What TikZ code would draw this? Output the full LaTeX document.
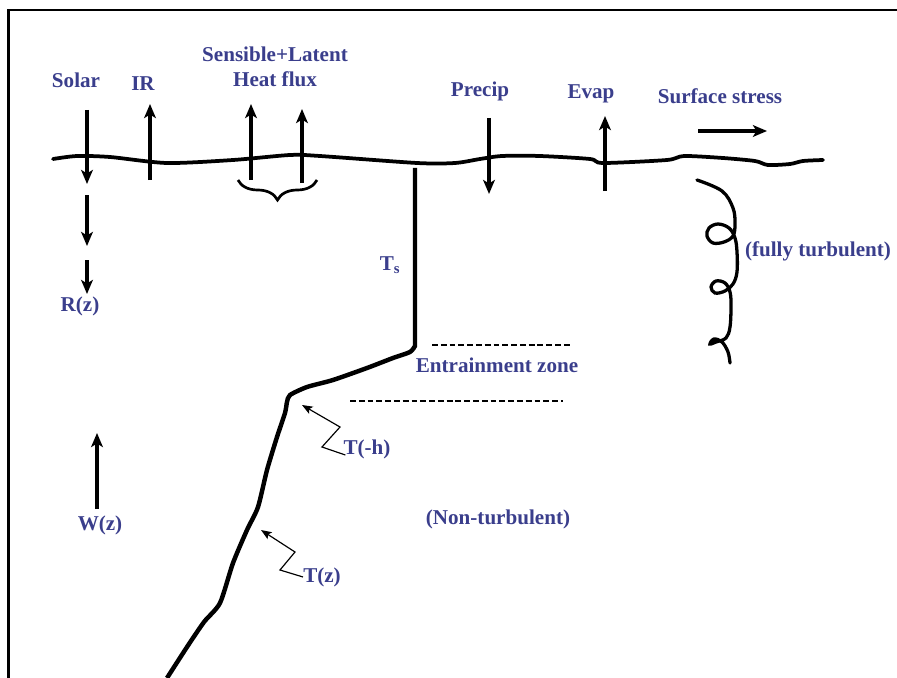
\documentclass[tikz,border=0pt]{standalone}
\usepackage{fontspec}
\setmainfont{Liberation Serif}
\usetikzlibrary{arrows.meta,decorations.pathreplacing}
\definecolor{labelblue}{RGB}{58,62,140}

\begin{document}
\begin{tikzpicture}[x=0.03cm, y=-0.03cm, >={Stealth[length=12pt,width=10pt,inset=3pt]}]
		%define styles
		\tikzset{
			lbl/.style={text=labelblue, font=\fontsize{18}{21}\selectfont\bfseries, inner sep=0pt},
			flux/.style={line width=2.6pt, ->},
			pointer/.style={line width=1pt, ->, >={Stealth[length=9pt,width=7pt,inset=2pt]}},
			zone/.style={line width=0.9pt, dash pattern=on 5pt off 2.5pt},
			surface/.style={line width=3.2pt, line cap=round},
			profile/.style={line width=3.8pt, line join=round},
		}
		\useasboundingbox (0,0) rectangle (897,678);
		%frame
		\draw[line width=2.5pt] (8.5,678) -- (8.5,10) -- (897,10);
		%sea surface
		\draw[surface] plot[smooth, tension=0.45] coordinates {(53,159) (77,156) (110,157) (167,163) (233,160) (290,155) (320,156) (417,163) (455,163) (480,159) (502,156) (540,156) (590,159) (603,163) (667,160) (684,156) (723,158) (755,161) (768,165) (790,164) (803,161) (823,160)};
		%define nodes
		\node[lbl] (solar) at (76,80) {Solar};
		\node[lbl] (ir) at (143,84) {IR};
		\node[lbl] (sens) at (275,54) {Sensible+Latent};
		\node[lbl] (heat) at (275,79) {Heat flux};
		\node[lbl] (precip) at (480,91) {Precip};
		\node[lbl] (evap) at (591,94) {Evap};
		\node[lbl] (stress) at (720,96) {Surface stress};
		\node[lbl] (rz) at (80,306) {R(z)};
		\node[lbl] (ts) at (390,265) {T\textsubscript{s}};
		\node[lbl] (turb) at (818,251) {(fully turbulent)};
		\node[lbl] (entr) at (497,365) {Entrainment zone};
		\node[lbl] (th) at (367,449) {T(-h)};
		\node[lbl] (wz) at (100,525) {W(z)};
		\node[lbl] (nonturb) at (498,519) {(Non-turbulent)};
		\node[lbl] (tz) at (322,577) {T(z)};
		%define arrow ends
		\coordinate (solarA) at (87,110);
		\coordinate (solarB) at (87,184);
		\coordinate (solarC) at (87,195);
		\coordinate (solarD) at (87,246);
		\coordinate (solarE) at (87,260);
		\coordinate (solarF) at (87,294);
		\coordinate (irA) at (150,180);
		\coordinate (irB) at (150,104);
		\coordinate (sensA) at (251,180);
		\coordinate (sensB) at (251,104);
		\coordinate (latA) at (302,183);
		\coordinate (latB) at (302,109);
		\coordinate (precipA) at (489,118);
		\coordinate (precipB) at (489,194);
		\coordinate (evapA) at (605,191);
		\coordinate (evapB) at (605,116);
		\coordinate (stressA) at (698,131);
		\coordinate (stressB) at (767,131);
		\coordinate (wzA) at (97,509);
		\coordinate (wzB) at (97,433);
		\coordinate (thTip) at (302,405);
		\coordinate (tzTip) at (261,530);
		%define arrows
		\draw[flux] (solarA) -- (solarB);
		\draw[flux] (solarC) -- (solarD);
		\draw[flux] (solarE) -- (solarF);
		\draw[flux] (irA) -- (irB);
		\draw[flux] (sensA) -- (sensB);
		\draw[flux] (latA) -- (latB);
		\draw[flux] (precipA) -- (precipB);
		\draw[flux] (evapA) -- (evapB);
		\draw[flux] (stressA) -- (stressB);
		\draw[flux] (wzA) -- (wzB);
		\draw[pointer] (th.west) ++(2,6) -- (322,447) -- (340,427) -- (thTip);
		\draw[pointer] (tz.west) -- (280,570) -- (295,552) -- (tzTip);
		%brace under the heat fluxes
		\draw[line width=2.3pt, decorate, decoration={brace, amplitude=0.6cm}] (317,180) -- (238,180);
		%temperature profile
		\draw[profile] (415,168) -- plot[smooth, tension=0.4] coordinates {(415,346) (410,352) (393,358) (367,368) (333,380) (307,387) (290,395) (287,402) (285,413) (277,437) (267,470) (258,507) (247,530) (233,563) (220,603) (204,622) (187,647) (167,678)};
		%entrainment zone limits
		\draw[zone] (432,345) -- (570,345);
		\draw[zone] (350,401) -- (563,401);
		%turbulent eddy
		\draw[line width=2.8pt, line cap=round] plot[smooth, tension=0.6] coordinates {(697,180) (722,191) (733,208) (735,224) (733,236) (724,242) (713,243) (707,236) (709,228) (718,224) (729,228) (735,238) (737,252) (737,272) (733,284) (725,291) (715,293) (711,287) (716,281) (725,283) (730,292) (731,306) (730,327) (726,338) (716,342) (710,344) (714,339) (722,342) (728,352) (730,363)};
\end{tikzpicture}
\end{document}
